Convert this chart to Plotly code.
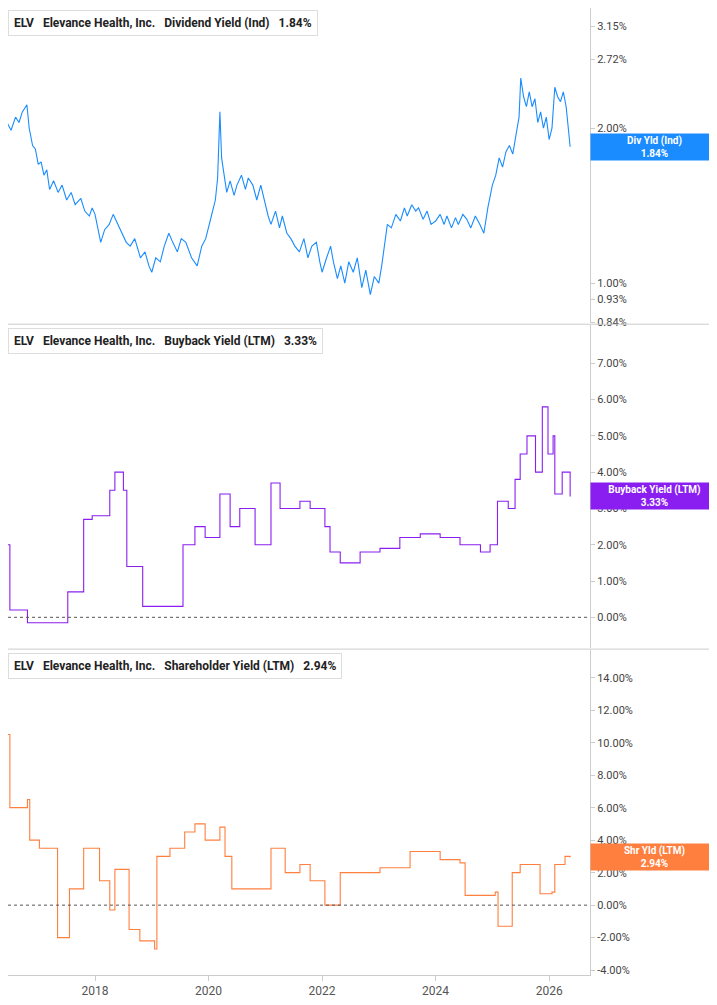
import plotly.graph_objects as go

# x positions are decimal years
div_x = [2016.32, 2016.38, 2016.45, 2016.52, 2016.6, 2016.66, 2016.72, 2016.8, 2016.84, 2016.9, 2016.95, 2017.0,
         2017.05, 2017.1, 2017.15, 2017.2, 2017.27, 2017.35, 2017.42, 2017.5, 2017.58, 2017.65, 2017.75, 2017.82,
         2017.9, 2017.95, 2018.0, 2018.05, 2018.1, 2018.17, 2018.25, 2018.32, 2018.4, 2018.47, 2018.55, 2018.62,
         2018.7, 2018.8, 2018.88, 2018.95, 2019.0, 2019.07, 2019.15, 2019.22, 2019.3, 2019.37, 2019.45, 2019.52,
         2019.6, 2019.7, 2019.8, 2019.88, 2019.95, 2020.05, 2020.12, 2020.16, 2020.2, 2020.23, 2020.27, 2020.32,
         2020.38, 2020.45, 2020.5, 2020.58, 2020.65, 2020.7, 2020.78, 2020.85, 2020.92, 2021.0, 2021.05, 2021.1,
         2021.18, 2021.25, 2021.3, 2021.38, 2021.45, 2021.52, 2021.6, 2021.68, 2021.75, 2021.82, 2021.9, 2021.96,
         2022.0, 2022.08, 2022.15, 2022.2, 2022.27, 2022.33, 2022.4, 2022.47, 2022.55, 2022.62, 2022.7, 2022.77,
         2022.85, 2022.92, 2023.0, 2023.05, 2023.1, 2023.15, 2023.22, 2023.3, 2023.38, 2023.45, 2023.5, 2023.58,
         2023.65, 2023.7, 2023.78, 2023.85, 2023.92, 2024.0, 2024.08, 2024.15, 2024.2, 2024.28, 2024.35, 2024.4,
         2024.48, 2024.55, 2024.62, 2024.7, 2024.78, 2024.85, 2024.92, 2025.0, 2025.06, 2025.12, 2025.18, 2025.24,
         2025.3, 2025.36, 2025.42, 2025.47, 2025.5, 2025.55, 2025.6, 2025.65, 2025.7, 2025.75, 2025.8, 2025.85,
         2025.9, 2025.95, 2026.0, 2026.05, 2026.1, 2026.15, 2026.2, 2026.25, 2026.3, 2026.34, 2026.37]
div_y = [1.90, 1.95, 2.05, 1.98, 2.10, 2.05, 2.15, 2.22, 2.00, 1.85, 1.82, 1.70,
         1.72, 1.62, 1.66, 1.52, 1.58, 1.50, 1.55, 1.45, 1.50, 1.42, 1.46, 1.38,
         1.35, 1.40, 1.36, 1.28, 1.20, 1.27, 1.30, 1.36, 1.30, 1.25, 1.20, 1.18,
         1.22, 1.12, 1.15, 1.08, 1.05, 1.12, 1.10, 1.18, 1.25, 1.20, 1.15, 1.22,
         1.20, 1.12, 1.08, 1.18, 1.22, 1.35, 1.45, 1.60, 2.15, 1.75, 1.62, 1.50,
         1.58, 1.48, 1.55, 1.62, 1.52, 1.60, 1.55, 1.45, 1.55, 1.42, 1.35, 1.30,
         1.38, 1.28, 1.35, 1.25, 1.22, 1.18, 1.15, 1.22, 1.12, 1.18, 1.20, 1.10,
         1.05, 1.12, 1.18, 1.10, 1.02, 1.08, 1.00, 1.10, 1.05, 1.12, 0.98, 1.06,
         0.95, 1.03, 1.00, 1.08, 1.20, 1.30, 1.28, 1.36, 1.32, 1.40, 1.35, 1.42,
         1.38, 1.40, 1.33, 1.38, 1.30, 1.32, 1.36, 1.30, 1.35, 1.28, 1.34, 1.30,
         1.36, 1.33, 1.28, 1.35, 1.30, 1.25, 1.40, 1.55, 1.62, 1.75, 1.68, 1.80,
         1.85, 1.78, 1.95, 2.10, 2.50, 2.30, 2.20, 2.35, 2.20, 2.28, 2.05, 2.15,
         2.00, 2.10, 1.90, 2.00, 2.40, 2.30, 2.25, 2.35, 2.20, 2.00, 1.84]

bb_x = [2016.32, 2016.5, 2016.81, 2017.52, 2017.8, 2017.95, 2018.26, 2018.35, 2018.5, 2018.56, 2018.84, 2019.49,
        2019.55, 2019.76, 2019.94, 2020.2, 2020.38, 2020.55, 2020.82, 2021.05, 2021.1, 2021.26, 2021.61, 2021.79,
        2022.05, 2022.14, 2022.32, 2022.67, 2023.02, 2023.37, 2023.73, 2024.08, 2024.43, 2024.79, 2024.96, 2025.09,
        2025.28, 2025.4, 2025.49, 2025.61, 2025.76, 2025.88, 2025.98, 2026.07, 2026.1, 2026.23, 2026.37]
bb_y = [2.0, 0.2, -0.15, 0.7, 2.7, 2.8, 3.5, 4.0, 3.5, 1.4, 0.3, 0.3,
        2.0, 2.5, 2.2, 3.4, 2.5, 3.0, 2.0, 2.0, 3.7, 3.0, 3.2, 3.0,
        2.5, 1.8, 1.5, 1.8, 1.9, 2.2, 2.3, 2.2, 2.0, 1.8, 2.0, 3.2,
        3.0, 3.8, 4.5, 5.0, 4.0, 5.8, 4.5, 5.0, 3.4, 4.0, 3.33]

sh_x = [2016.32, 2016.5, 2016.81, 2016.85, 2017.02, 2017.29, 2017.34, 2017.52, 2017.55, 2017.8, 2017.99, 2018.08,
        2018.26, 2018.35, 2018.56, 2018.6, 2018.79, 2019.05, 2019.09, 2019.32, 2019.58, 2019.76, 2019.94, 2020.2,
        2020.29, 2020.41, 2021.05, 2021.1, 2021.35, 2021.61, 2021.79, 2022.05, 2022.32, 2023.02, 2023.55, 2024.08,
        2024.43, 2024.52, 2025.05, 2025.1, 2025.32, 2025.35, 2025.49, 2025.67, 2025.84, 2026.05, 2026.1, 2026.28, 2026.37]
sh_y = [10.5, 6.0, 6.5, 4.0, 3.5, 3.5, -2.0, -2.0, 1.0, 3.5, 3.5, 1.5,
        -0.3, 2.2, 2.2, -1.5, -2.2, -2.7, 3.0, 3.5, 4.5, 5.0, 4.0, 4.8,
        3.0, 1.0, 1.0, 3.5, 2.0, 2.5, 1.5, 0.0, 2.0, 2.3, 3.3, 2.8,
        2.6, 0.6, 0.8, -1.3, -1.3, 2.0, 2.5, 2.5, 0.7, 0.8, 2.5, 3.0, 2.94]

div_ticks = [0.84, 0.93, 1.00, 2.00, 2.72, 3.15]
bb_ticks = [0, 1, 2, 3, 4, 5, 6, 7]
sh_ticks = [-4, -2, 0, 2, 4, 6, 8, 10, 12, 14]
years = [2018, 2020, 2022, 2024, 2026]

blue, purple, orange = "#1a8cff", "#8a1ef0", "#ff7f3f"
font = "Roboto"

fig = go.Figure()
fig.add_trace(go.Scatter(x=div_x, y=div_y, mode="lines", line=dict(color=blue, width=1.1), xaxis="x", yaxis="y"))
fig.add_trace(go.Scatter(x=bb_x, y=bb_y, mode="lines", line=dict(color=purple, width=1.1, shape="hv"), xaxis="x", yaxis="y2"))
fig.add_trace(go.Scatter(x=sh_x, y=sh_y, mode="lines", line=dict(color=orange, width=1.1, shape="hv"), xaxis="x", yaxis="y3"))

yax = dict(side="right", showgrid=False, zeroline=False, showline=True, linecolor="#cccccc",
           ticks="outside", ticklen=4, tickcolor="#cccccc", tickfont=dict(size=11, color="#444", family=font))
fig.update_layout(
    width=709, height=997, margin=dict(l=0, r=127, t=0, b=30),
    plot_bgcolor="white", paper_bgcolor="white", showlegend=False,
    xaxis=dict(range=[2016.467, 2026.72], tickvals=years, ticktext=[str(y) for y in years], showgrid=False,
               tickfont=dict(size=12, color="#555", family=font), ticks="outside", tickcolor="#cccccc",
               showline=True, linecolor="#cccccc", anchor="y3"),
    yaxis=dict(yax, type="log", domain=[0.674, 1], range=[-0.0778, 0.534],
               tickvals=div_ticks, ticktext=[f"{v:.2f}%" for v in div_ticks]),
    yaxis2=dict(yax, domain=[0.338, 0.672], range=[-0.85, 8.05],
                tickvals=bb_ticks, ticktext=[f"{v:.2f}%" for v in bb_ticks]),
    yaxis3=dict(yax, domain=[0, 0.336], range=[-4.3, 15.7],
                tickvals=sh_ticks, ticktext=[f"{v:.2f}%" for v in sh_ticks]),
)

# zero lines and panel separators
for ya in ["y2", "y3"]:
    fig.add_shape(type="line", xref="x domain", yref=ya, x0=0, x1=1, y0=0, y1=0,
                  line=dict(color="#555", width=1, dash="dot"))
for yp in [0.673, 0.337]:
    fig.add_shape(type="line", xref="paper", yref="paper", x0=0, x1=1.22, y0=yp, y1=yp,
                  line=dict(color="#cccccc", width=1))

# headers
headers = [("Dividend Yield (Ind)", "1.84%", blue, 1.0),
           ("Buyback Yield (LTM)", "3.33%", purple, 0.671),
           ("Shareholder Yield (LTM)", "2.94%", orange, 0.335)]
for name, val, col, yp in headers:
    fig.add_annotation(xref="paper", yref="paper", x=0.0, y=yp - 0.002, xanchor="left", yanchor="top",
                       text=f"<b>ELV   Elevance Health, Inc.   {name}   {val}</b>", showarrow=False,
                       font=dict(size=12, color="#222", family=font), bgcolor="white",
                       bordercolor="#dddddd", borderwidth=1, borderpad=5)
    fig.add_shape(type="rect", xref="paper", yref="paper", x0=0.004, x1=0.009, y0=yp - 0.027, y1=yp - 0.007,
                  fillcolor=col, line_width=0)

# last value tags
tags = [("Div Yld (Ind)", "1.84%", blue, "y", 0.2648),
        ("Buyback Yield (LTM)", "3.33%", purple, "y2", 3.33),
        ("Shr Yld (LTM)", "2.94%", orange, "y3", 2.94)]
for name, val, col, ya, v in tags:
    fig.add_annotation(xref="paper", yref=ya, x=1.0, y=v, xanchor="left",
                       text=f"<b>{name}<br>{val}</b>", showarrow=False, align="center", width=127, height=26,
                       font=dict(size=10, color="white", family=font), bgcolor=col, borderpad=0)

fig.write_html("out.html")
